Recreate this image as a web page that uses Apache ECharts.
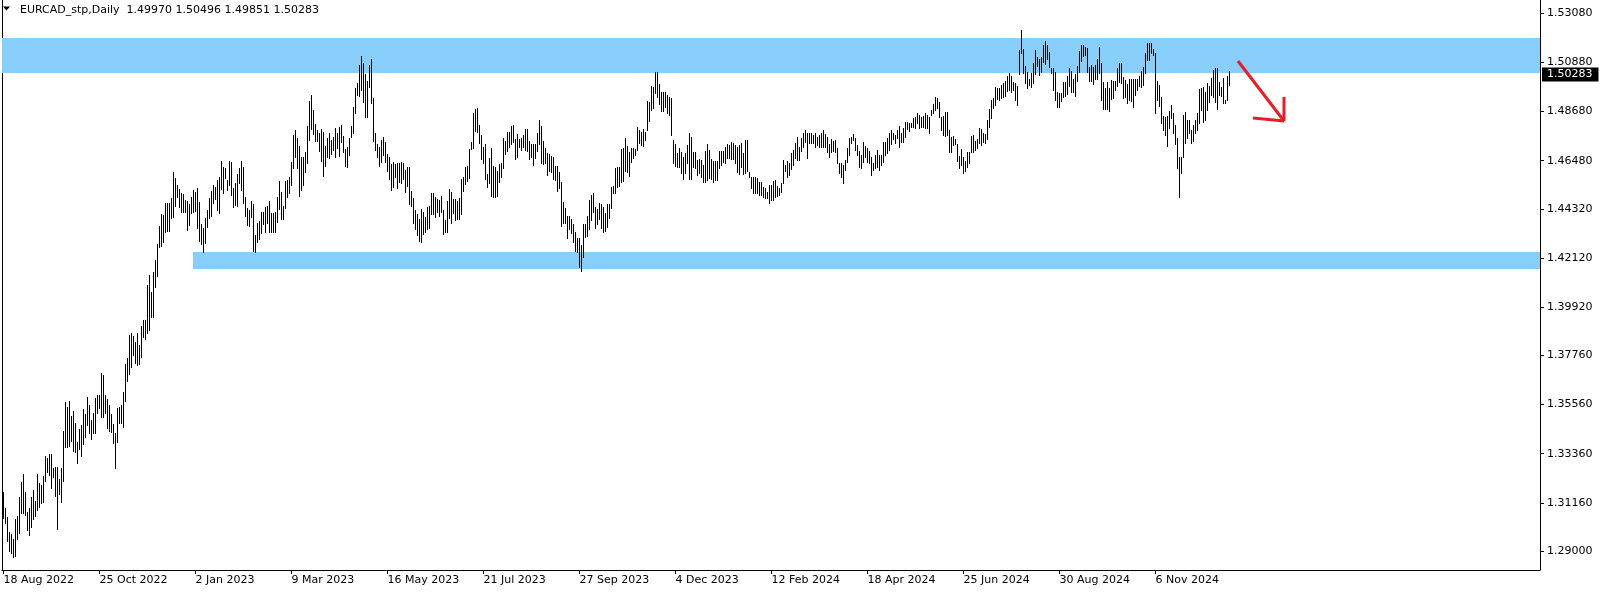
<!DOCTYPE html>
<html><head><meta charset="utf-8">
<script src="https://cdn.jsdelivr.net/npm/echarts@6/dist/echarts.min.js"></script>
<style>html,body{margin:0;padding:0;background:#fff;}#c{width:1604px;height:594px;}</style>
</head><body><div id="c"></div>
<script>
// ---------- data ----------
const symbolTitle = 'EURCAD_stp,Daily';
const lastBar = [1.49970, 1.50496, 1.49851, 1.50283]; // O H L C of the last bar
const dateLabels = ['18 Aug 2022','25 Oct 2022','2 Jan 2023','9 Mar 2023','16 May 2023','21 Jul 2023','27 Sep 2023','4 Dec 2023','12 Feb 2024','18 Apr 2024','25 Jun 2024','30 Aug 2024','6 Nov 2024'];
const barsPerDateLabel = 48;
const priceTicks = ['1.29000','1.31160','1.33360','1.35560','1.37760','1.39920','1.42120','1.44320','1.46480','1.48680','1.50880','1.53080'];
const highs = [
1.3164,1.3093,1.3052,1.2985,1.2976,1.2954,1.3043,1.3057,1.3142,1.3209,
1.3245,1.3164,1.3075,1.3093,1.3142,1.3173,1.3124,1.3245,1.3205,1.3196,
1.3236,1.3325,1.3317,1.3334,1.3334,1.3272,1.3276,1.3276,1.3223,1.3272,
1.3437,1.3567,1.3545,1.3572,1.3505,1.3527,1.3473,1.3388,1.3446,1.3464,
1.3536,1.3514,1.3590,1.3554,1.3487,1.3518,1.3585,1.3599,1.3599,1.3697,
1.3688,1.3599,1.3581,1.3554,1.3514,1.3469,1.3429,1.3540,1.3545,1.3554,
1.3612,1.3738,1.3764,1.3867,1.3876,1.3863,1.3836,1.3876,1.3823,1.3908,
1.3935,1.3935,1.4091,1.4136,1.4060,1.4149,1.4203,1.4275,1.4356,1.4409,
1.4405,1.4459,1.4459,1.4459,1.4481,1.4597,1.4571,1.4539,1.4521,1.4503,
1.4499,1.4472,1.4467,1.4454,1.4485,1.4517,1.4508,1.4526,1.4463,1.4365,
1.4347,1.4391,1.4427,1.4481,1.4512,1.4539,1.4530,1.4562,1.4575,1.4647,
1.4620,1.4615,1.4562,1.4647,1.4642,1.4526,1.4548,1.4588,1.4615,1.4647,
1.4620,1.4485,1.4436,1.4427,1.4467,1.4454,1.4315,1.4369,1.4378,1.4418,
1.4418,1.4441,1.4445,1.4467,1.4414,1.4414,1.4418,1.4485,1.4557,1.4508,
1.4445,1.4557,1.4562,1.4575,1.4642,1.4763,1.4785,1.4750,1.4714,1.4665,
1.4665,1.4687,1.4803,1.4915,1.4942,1.4875,1.4812,1.4785,1.4772,1.4790,
1.4776,1.4714,1.4750,1.4772,1.4741,1.4754,1.4794,1.4772,1.4799,1.4808,
1.4759,1.4700,1.4709,1.4750,1.4803,1.4889,1.4974,1.4996,1.5077,1.5117,
1.5086,1.5036,1.5005,1.5077,1.5103,1.4929,1.4772,1.4723,1.4709,1.4741,
1.4754,1.4732,1.4678,1.4665,1.4633,1.4642,1.4633,1.4638,1.4638,1.4642,
1.4638,1.4606,1.4620,1.4620,1.4512,1.4481,1.4427,1.4409,1.4387,1.4432,
1.4418,1.4396,1.4441,1.4445,1.4503,1.4503,1.4485,1.4476,1.4472,1.4490,
1.4427,1.4382,1.4467,1.4521,1.4508,1.4476,1.4476,1.4467,1.4481,1.4566,
1.4575,1.4620,1.4624,1.4700,1.4732,1.4862,1.4880,1.4884,1.4808,1.4763,
1.4709,1.4723,1.4588,1.4660,1.4705,1.4624,1.4620,1.4602,1.4633,1.4638,
1.4750,1.4736,1.4776,1.4776,1.4803,1.4808,1.4745,1.4768,1.4745,1.4750,
1.4763,1.4790,1.4790,1.4736,1.4723,1.4723,1.4723,1.4772,1.4830,1.4803,
1.4736,1.4705,1.4682,1.4678,1.4669,1.4665,1.4624,1.4624,1.4597,1.4553,
1.4463,1.4436,1.4400,1.4400,1.4387,1.4365,1.4329,1.4302,1.4302,1.4270,
1.4365,1.4365,1.4400,1.4472,1.4494,1.4503,1.4441,1.4432,1.4459,1.4454,
1.4441,1.4414,1.4454,1.4454,1.4530,1.4535,1.4615,1.4620,1.4620,1.4700,
1.4705,1.4750,1.4714,1.4687,1.4705,1.4705,1.4700,1.4799,1.4785,1.4776,
1.4790,1.4776,1.4915,1.4911,1.4982,1.4978,1.5045,1.5045,1.4991,1.4956,
1.4956,1.4956,1.4942,1.4933,1.4929,1.4741,1.4723,1.4682,1.4705,1.4687,
1.4665,1.4682,1.4718,1.4772,1.4754,1.4687,1.4687,1.4651,1.4656,1.4651,
1.4629,1.4691,1.4723,1.4696,1.4656,1.4647,1.4647,1.4647,1.4691,1.4691,
1.4691,1.4709,1.4723,1.4718,1.4732,1.4727,1.4718,1.4709,1.4718,1.4727,
1.4682,1.4741,1.4741,1.4597,1.4575,1.4575,1.4575,1.4571,1.4553,1.4553,
1.4530,1.4526,1.4508,1.4539,1.4539,1.4557,1.4562,1.4535,1.4526,1.4548,
1.4651,1.4629,1.4647,1.4638,1.4682,1.4696,1.4727,1.4754,1.4709,1.4750,
1.4772,1.4785,1.4772,1.4772,1.4772,1.4763,1.4772,1.4754,1.4763,1.4772,
1.4785,1.4768,1.4754,1.4723,1.4745,1.4736,1.4741,1.4705,1.4638,1.4638,
1.4629,1.4651,1.4705,1.4750,1.4754,1.4768,1.4750,1.4718,1.4691,1.4673,
1.4732,1.4714,1.4705,1.4691,1.4665,1.4638,1.4673,1.4696,1.4673,1.4673,
1.4732,1.4732,1.4750,1.4772,1.4785,1.4772,1.4763,1.4785,1.4803,1.4772,
1.4794,1.4821,1.4821,1.4817,1.4817,1.4839,1.4844,1.4862,1.4853,1.4844,
1.4848,1.4862,1.4853,1.4844,1.4875,1.4902,1.4933,1.4929,1.4911,1.4844,
1.4848,1.4866,1.4866,1.4785,1.4754,1.4759,1.4745,1.4723,1.4669,1.4700,
1.4665,1.4647,1.4687,1.4687,1.4759,1.4763,1.4736,1.4745,1.4794,1.4790,
1.4772,1.4768,1.4830,1.4880,1.4920,1.4929,1.4978,1.4974,1.4974,1.4987,
1.4996,1.5005,1.5027,1.5041,1.5027,1.5000,1.4996,1.4982,1.5144,1.5233,
1.5148,1.5072,1.5045,1.5014,1.5041,1.5086,1.5144,1.5112,1.5103,1.5112,
1.5166,1.5184,1.5166,1.5135,1.5063,1.5063,1.5045,1.4956,1.4951,1.4951,
1.5000,1.5000,1.5027,1.5063,1.5050,1.5014,1.5036,1.5072,1.5139,1.5166,
1.5166,1.5157,1.5153,1.5068,1.5077,1.5068,1.5077,1.5103,1.5157,1.5086,
1.5000,1.4974,1.5000,1.4974,1.5009,1.5005,1.5005,1.5063,1.5086,1.5086,
1.5023,1.5009,1.4991,1.5014,1.5014,1.5014,1.5014,1.5014,1.5027,1.5050,
1.5068,1.5130,1.5175,1.5175,1.5175,1.5148,1.5130,1.5005,1.4987,1.4933,
1.4848,1.4844,1.4848,1.4871,1.4897,1.4862,1.4808,1.4750,1.4665,1.4665,
1.4853,1.4866,1.4830,1.4830,1.4785,1.4808,1.4830,1.4862,1.4969,1.4974,
1.4978,1.4956,1.4996,1.4982,1.5018,1.5054,1.5063,1.5063,1.5000,1.4978,
1.5018,1.4920,1.5027,1.50496
];
const lows = [
1.3048,1.3025,1.2945,1.2900,1.2891,1.2873,1.2878,1.2954,1.2981,1.3070,
1.3070,1.3061,1.2994,1.2972,1.3008,1.3043,1.3057,1.3084,1.3097,1.3115,
1.3119,1.3214,1.3254,1.3240,1.3182,1.3232,1.3146,1.2999,1.3155,1.3119,
1.3214,1.3366,1.3366,1.3370,1.3393,1.3348,1.3343,1.3294,1.3357,1.3325,
1.3379,1.3411,1.3464,1.3429,1.3402,1.3429,1.3429,1.3518,1.3540,1.3500,
1.3500,1.3518,1.3451,1.3437,1.3433,1.3384,1.3272,1.3388,1.3473,1.3473,
1.3455,1.3572,1.3661,1.3693,1.3724,1.3778,1.3742,1.3733,1.3738,1.3769,
1.3858,1.3849,1.3876,1.3890,1.3948,1.3948,1.4082,1.4132,1.4262,1.4266,
1.4284,1.4329,1.4333,1.4333,1.4391,1.4396,1.4445,1.4485,1.4441,1.4418,
1.4418,1.4418,1.4338,1.4360,1.4414,1.4418,1.4423,1.4347,1.4288,1.4275,
1.4239,1.4279,1.4351,1.4391,1.4400,1.4459,1.4476,1.4427,1.4414,1.4521,
1.4503,1.4571,1.4517,1.4539,1.4494,1.4441,1.4450,1.4445,1.4548,1.4517,
1.4459,1.4400,1.4360,1.4356,1.4396,1.4244,1.4239,1.4284,1.4297,1.4324,
1.4365,1.4329,1.4369,1.4329,1.4329,1.4329,1.4329,1.4373,1.4432,1.4387,
1.4387,1.4436,1.4485,1.4503,1.4539,1.4615,1.4665,1.4615,1.4490,1.4517,
1.4539,1.4597,1.4638,1.4741,1.4790,1.4768,1.4736,1.4736,1.4691,1.4647,
1.4579,1.4624,1.4665,1.4660,1.4678,1.4696,1.4665,1.4705,1.4669,1.4732,
1.4687,1.4624,1.4620,1.4673,1.4754,1.4772,1.4862,1.4942,1.4938,1.4965,
1.4911,1.4844,1.4844,1.4978,1.4906,1.4736,1.4696,1.4665,1.4624,1.4642,
1.4673,1.4642,1.4602,1.4566,1.4517,1.4530,1.4575,1.4526,1.4553,1.4548,
1.4566,1.4508,1.4535,1.4454,1.4445,1.4369,1.4342,1.4315,1.4288,1.4284,
1.4320,1.4329,1.4342,1.4347,1.4409,1.4409,1.4396,1.4418,1.4400,1.4418,
1.4320,1.4329,1.4329,1.4391,1.4369,1.4414,1.4382,1.4387,1.4387,1.4409,
1.4512,1.4544,1.4557,1.4571,1.4700,1.4705,1.4781,1.4776,1.4727,1.4656,
1.4638,1.4566,1.4530,1.4548,1.4490,1.4485,1.4485,1.4490,1.4553,1.4575,
1.4615,1.4678,1.4691,1.4709,1.4723,1.4732,1.4656,1.4665,1.4709,1.4696,
1.4709,1.4696,1.4691,1.4656,1.4665,1.4629,1.4660,1.4691,1.4723,1.4638,
1.4633,1.4638,1.4584,1.4602,1.4597,1.4566,1.4562,1.4512,1.4526,1.4356,
1.4369,1.4369,1.4302,1.4342,1.4324,1.4284,1.4244,1.4239,1.4172,1.4154,
1.4217,1.4306,1.4311,1.4342,1.4382,1.4418,1.4347,1.4365,1.4387,1.4347,
1.4329,1.4333,1.4351,1.4391,1.4436,1.4503,1.4503,1.4530,1.4535,1.4553,
1.4557,1.4602,1.4597,1.4579,1.4642,1.4660,1.4673,1.4696,1.4727,1.4718,
1.4714,1.4741,1.4785,1.4826,1.4875,1.4884,1.4951,1.4933,1.4902,1.4871,
1.4871,1.4889,1.4862,1.4853,1.4763,1.4638,1.4624,1.4620,1.4620,1.4593,
1.4566,1.4593,1.4638,1.4566,1.4566,1.4620,1.4615,1.4584,1.4593,1.4575,
1.4553,1.4553,1.4562,1.4571,1.4566,1.4553,1.4562,1.4562,1.4615,1.4629,
1.4642,1.4638,1.4660,1.4660,1.4656,1.4656,1.4638,1.4597,1.4588,1.4620,
1.4588,1.4593,1.4602,1.4575,1.4526,1.4503,1.4503,1.4503,1.4494,1.4494,
1.4485,1.4481,1.4481,1.4459,1.4472,1.4472,1.4485,1.4490,1.4494,1.4508,
1.4548,1.4602,1.4575,1.4584,1.4611,1.4629,1.4660,1.4651,1.4651,1.4691,
1.4709,1.4732,1.4660,1.4727,1.4727,1.4727,1.4709,1.4718,1.4709,1.4709,
1.4709,1.4709,1.4687,1.4665,1.4687,1.4691,1.4687,1.4638,1.4593,1.4575,
1.4548,1.4606,1.4642,1.4673,1.4727,1.4741,1.4696,1.4673,1.4620,1.4615,
1.4642,1.4665,1.4642,1.4638,1.4584,1.4606,1.4615,1.4620,1.4606,1.4629,
1.4642,1.4673,1.4682,1.4696,1.4723,1.4745,1.4727,1.4750,1.4709,1.4732,
1.4732,1.4754,1.4790,1.4781,1.4799,1.4799,1.4794,1.4817,1.4794,1.4799,
1.4799,1.4794,1.4794,1.4772,1.4853,1.4862,1.4875,1.4884,1.4844,1.4785,
1.4763,1.4759,1.4763,1.4687,1.4687,1.4718,1.4723,1.4647,1.4615,1.4629,
1.4593,1.4602,1.4620,1.4638,1.4687,1.4687,1.4696,1.4705,1.4727,1.4718,
1.4732,1.4727,1.4745,1.4799,1.4839,1.4884,1.4897,1.4924,1.4920,1.4929,
1.4933,1.4938,1.4960,1.4965,1.4956,1.4965,1.4920,1.4897,1.5036,1.5130,
1.5041,1.4996,1.4974,1.4987,1.4978,1.4996,1.5036,1.5072,1.5032,1.5045,
1.5090,1.5081,1.5103,1.5068,1.5041,1.4965,1.4920,1.4889,1.4889,1.4915,
1.4933,1.4938,1.4947,1.4982,1.4956,1.4956,1.4938,1.5005,1.5045,1.5094,
1.5117,1.5121,1.5045,1.5005,1.5005,1.4991,1.5014,1.5014,1.5041,1.4920,
1.4880,1.4880,1.4880,1.4871,1.4924,1.4929,1.4965,1.4982,1.5000,1.4996,
1.4929,1.4933,1.4906,1.4920,1.4915,1.4889,1.4942,1.4965,1.4982,1.4978,
1.4987,1.5041,1.5099,1.5099,1.5130,1.5121,1.4862,1.4920,1.4893,1.4817,
1.4785,1.4763,1.4714,1.4794,1.4839,1.4772,1.4723,1.4615,1.4485,1.4593,
1.4665,1.4727,1.4750,1.4772,1.4727,1.4736,1.4772,1.4785,1.4817,1.4875,
1.4821,1.4830,1.4875,1.4911,1.4942,1.4933,1.4911,1.4880,1.4942,1.4938,
1.4906,1.4906,1.4920,1.49851
];
const resistanceZone = [1.50407, 1.51974];
const supportZone = [1.41629, 1.42390];
const supportZoneStartBar = 94.75;

// ---------- chart ----------
const FONT = '"DejaVu Sans", Verdana, sans-serif';
const yMax = 1.53676, yMin = 1.28149;
const xMin = -0.75, xMax = 768.25;
const n = Math.min(highs.length, lows.length);
const bars = [];
for (let i = 0; i < n; i++) bars.push([i, highs[i], lows[i]]);
const dateTickValues = dateLabels.map((d, k) => k * barsPerDateLabel);
const priceTickValues = priceTicks.map(Number);

const chart = echarts.init(document.getElementById('c'), null, {renderer: 'canvas'});
const graphics = [
  {type: 'polygon', z: 100, shape: {points: [[3, 6.5], [10, 6.5], [6.5, 10.5]]}, style: {fill: '#000'}},
  {type: 'text', z: 100, x: 20, y: 10.5, style: {
    text: symbolTitle + '  ' + lastBar.map(v => v.toFixed(5)).join(' '),
    fill: '#000', font: '11px ' + FONT, verticalAlign: 'middle', align: 'left'}},
  {type: 'polyline', z: 100, shape: {points: [[1238, 61], [1284, 121]]}, style: {stroke: '#ed1c24', lineWidth: 3, fill: null}},
  {type: 'polyline', z: 100, shape: {points: [[1284, 97], [1284, 121]]}, style: {stroke: '#ed1c24', lineWidth: 3, fill: null}},
  {type: 'polyline', z: 100, shape: {points: [[1253, 118], [1284, 121]]}, style: {stroke: '#ed1c24', lineWidth: 3, fill: null}}
];
chart.setOption({
  animation: false,
  backgroundColor: '#ffffff',
  grid: {left: 2, right: 64, top: 0, height: 570, outerBoundsMode: 'none'},
  xAxis: {
    type: 'value', min: xMin, max: xMax,
    axisLine: {show: true, onZero: false, lineStyle: {color: '#000', width: 1}},
    splitLine: {show: false},
    axisTick: {show: true, length: 4, lineStyle: {color: '#000'}, customValues: dateTickValues},
    axisLabel: {customValues: dateTickValues, formatter: v => dateLabels[Math.round(v / barsPerDateLabel)],
      align: 'left', color: '#000', fontFamily: FONT, fontSize: 11, margin: 5}
  },
  yAxis: [{
    type: 'value', position: 'right', min: yMin, max: yMax,
    axisLine: {show: true, onZero: false, lineStyle: {color: '#000', width: 1}},
    splitLine: {show: false},
    axisTick: {show: true, length: 4, lineStyle: {color: '#000'}, customValues: priceTickValues},
    axisLabel: {customValues: priceTickValues, formatter: v => v.toFixed(5),
      color: '#000', fontFamily: FONT, fontSize: 11, margin: 7}
  }, {
    type: 'value', position: 'left', min: yMin, max: yMax,
    axisLine: {show: true, onZero: false, lineStyle: {color: '#000', width: 1}},
    axisTick: {show: false}, axisLabel: {show: false}, splitLine: {show: false}
  }],
  series: [{
    type: 'line', data: [], z: 1, clip: false, silent: true,
    markArea: {silent: true, itemStyle: {color: '#87CEFA', opacity: 1},
      data: [
        [{xAxis: xMin, yAxis: resistanceZone[1]}, {xAxis: xMax, yAxis: resistanceZone[0]}],
        [{xAxis: supportZoneStartBar, yAxis: supportZone[1]}, {xAxis: xMax, yAxis: supportZone[0]}]
      ]}
  }, {
    type: 'custom', z: 3, data: bars, encode: {x: 0, y: [1, 2]}, clip: true,
    renderItem: function (params, api) {
      const i = api.value(0);
      const pH = api.coord([i, api.value(1)]);
      const pL = api.coord([i, api.value(2)]);
      const x = Math.floor(pH[0]);
      const y1 = Math.round(pH[1]);
      const y2 = Math.round(pL[1]);
      return {type: 'rect', shape: {x: x, y: y1, width: 1, height: Math.max(1, y2 - y1 + 1)},
        style: {fill: '#000'}};
    }
  }],
  graphic: graphics
});
// current-price tag on the price scale, positioned through the y axis
const tagY = chart.convertToPixel({yAxisIndex: 0}, lastBar[3]);
const axisX = chart.convertToPixel({xAxisIndex: 0}, xMax);
graphics.push({type: 'text', z: 100, x: axisX + 2, y: Math.round(tagY) - 1.5, style: {
  text: lastBar[3].toFixed(5), fill: '#fff', font: '11px ' + FONT,
  backgroundColor: '#000', padding: [2, 6, 1, 5], verticalAlign: 'middle', align: 'left'}});
chart.setOption({graphic: graphics});
</script>
</body></html>
